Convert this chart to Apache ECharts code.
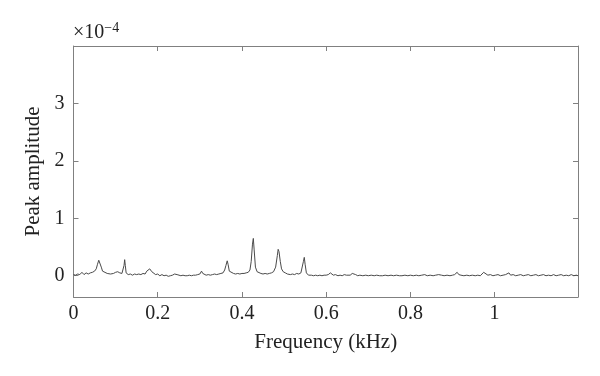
<!DOCTYPE html>
<html>
<head>
<meta charset="utf-8">
<script src="https://cdn.jsdelivr.net/npm/echarts@6/dist/echarts.min.js"></script>
<style>
  html, body { margin: 0; padding: 0; background: #fff; }
  #spectrum { width: 600px; height: 376px; }
</style>
</head>
<body>
<div id="spectrum"></div>
<script>
// frequency (kHz) and peak amplitude (x 1e-4)
const freqKHz = [
  0.000, 0.005, 0.010, 0.015, 0.020, 0.025, 0.030, 0.035, 0.040, 0.045,
  0.050, 0.054, 0.057, 0.060, 0.062, 0.064, 0.066, 0.069, 0.073, 0.080,
  0.088, 0.095, 0.100, 0.105, 0.110, 0.115, 0.118, 0.120, 0.1215, 0.123,
  0.125, 0.130, 0.135, 0.140, 0.145, 0.150, 0.155, 0.160, 0.165, 0.170,
  0.174, 0.177, 0.181, 0.183, 0.186, 0.190, 0.195, 0.200, 0.205, 0.210,
  0.215, 0.220, 0.225, 0.230, 0.235, 0.240, 0.243, 0.246, 0.250, 0.255,
  0.260, 0.265, 0.270, 0.275, 0.280, 0.285, 0.290, 0.295, 0.300, 0.304,
  0.307, 0.310, 0.315, 0.320, 0.325, 0.330, 0.335, 0.340, 0.345, 0.350,
  0.355, 0.359, 0.362, 0.365, 0.367, 0.370, 0.374, 0.380, 0.385, 0.390,
  0.395, 0.400, 0.405, 0.410, 0.415, 0.419, 0.422, 0.425, 0.427, 0.429,
  0.432, 0.436, 0.440, 0.445, 0.450, 0.455, 0.460, 0.465, 0.470, 0.475,
  0.480, 0.484, 0.486, 0.488, 0.491, 0.494, 0.498, 0.503, 0.508, 0.515,
  0.520, 0.525, 0.530, 0.535, 0.540, 0.543, 0.546, 0.548, 0.550, 0.553,
  0.558, 0.565, 0.570, 0.575, 0.580, 0.585, 0.590, 0.595, 0.600, 0.605,
  0.610, 0.613, 0.617, 0.622, 0.628, 0.633, 0.638, 0.643, 0.648, 0.652,
  0.657, 0.662, 0.666, 0.670, 0.675, 0.680, 0.687, 0.694, 0.700, 0.707,
  0.714, 0.720, 0.727, 0.734, 0.740, 0.747, 0.754, 0.760, 0.767, 0.774,
  0.780, 0.787, 0.794, 0.800, 0.807, 0.814, 0.820, 0.827, 0.834, 0.840,
  0.847, 0.854, 0.860, 0.867, 0.874, 0.880, 0.887, 0.894, 0.900, 0.905,
  0.911, 0.915, 0.920, 0.927, 0.934, 0.940, 0.947, 0.954, 0.960, 0.966,
  0.970, 0.974, 0.978, 0.984, 0.990, 0.996, 1.002, 1.008, 1.014, 1.020,
  1.026, 1.030, 1.034, 1.038, 1.044, 1.050, 1.056, 1.062, 1.068, 1.074,
  1.080, 1.086, 1.092, 1.098, 1.104, 1.110, 1.116, 1.122, 1.128, 1.134,
  1.140, 1.146, 1.152, 1.158, 1.164, 1.170, 1.176, 1.182, 1.188, 1.194,
  1.198
];
const amplitude = [
  0.02, 0.01, 0.03, 0.02, 0.06, 0.02, 0.05, 0.03, 0.05, 0.06,
  0.08, 0.12, 0.20, 0.27, 0.30, 0.25, 0.15, 0.08, 0.05, 0.04,
  0.03, 0.04, 0.06, 0.07, 0.05, 0.04, 0.06, 0.18, 0.28, 0.18,
  0.05, 0.02, 0.03, 0.01, 0.03, 0.02, 0.03, 0.02, 0.04, 0.03,
  0.08, 0.07, 0.12, 0.14, 0.07, 0.04, 0.02, 0.03, 0.00, 0.02,
  0.00, 0.01, -0.01, 0.00, 0.01, 0.03, 0.06, 0.02, 0.01, 0.00,
  0.01, 0.00, 0.00, 0.01, 0.00, 0.01, 0.01, 0.02, 0.03, 0.08,
  0.04, 0.02, 0.01, 0.02, 0.01, 0.02, 0.03, 0.02, 0.03, 0.04,
  0.05, 0.10, 0.18, 0.26, 0.20, 0.08, 0.05, 0.04, 0.03, 0.04,
  0.03, 0.04, 0.04, 0.05, 0.06, 0.10, 0.25, 0.55, 0.65, 0.45,
  0.15, 0.07, 0.05, 0.04, 0.03, 0.04, 0.03, 0.04, 0.05, 0.07,
  0.15, 0.35, 0.46, 0.42, 0.25, 0.12, 0.07, 0.05, 0.03, 0.02,
  0.03, 0.02, 0.04, 0.03, 0.05, 0.08, 0.25, 0.32, 0.20, 0.05,
  0.01, 0.01, 0.00, 0.01, 0.00, 0.01, 0.00, 0.01, 0.01, 0.02,
  0.05, 0.04, 0.01, 0.02, 0.00, 0.01, 0.00, 0.02, 0.01, 0.03,
  0.01, 0.04, 0.01, 0.02, 0.00, 0.01, 0.00, 0.01, 0.00, 0.01,
  0.00, 0.01, 0.00, 0.00, 0.01, 0.00, 0.01, 0.00, 0.01, 0.00,
  0.00, 0.01, 0.00, 0.01, 0.00, 0.01, 0.00, 0.01, 0.02, 0.00,
  0.01, 0.00, 0.01, 0.02, 0.01, 0.00, 0.01, 0.00, 0.01, 0.02,
  0.06, 0.02, 0.01, 0.00, 0.01, 0.00, 0.01, 0.00, 0.01, 0.00,
  0.02, 0.06, 0.03, 0.01, 0.02, 0.00, 0.01, 0.02, 0.00, 0.01,
  0.02, 0.02, 0.05, 0.01, 0.02, 0.00, 0.01, 0.02, 0.00, 0.01,
  0.02, 0.00, 0.01, 0.02, 0.00, 0.01, 0.02, 0.00, 0.01, 0.00,
  0.02, 0.00, 0.01, 0.02, 0.00, 0.01, 0.00, 0.02, 0.00, 0.01,
  0.00
];
const yTickValues = [0, 1, 2, 3];
const xTickStep = 0.2;

const axisColor = '#808080';
const fontFamily = '"Liberation Serif", "DejaVu Serif", serif';

const myChart = echarts.init(document.getElementById('spectrum'));
myChart.setOption({
  animation: false,
  backgroundColor: '#fff',
  textStyle: { fontFamily: fontFamily },
  title: {
    left: 73,
    top: 21,
    padding: 0,
    text: '×10{sup|−4}',
    textStyle: {
      fontFamily: fontFamily,
      fontSize: 20,
      fontWeight: 'normal',
      color: '#222',
      rich: {
        sup: { fontFamily: fontFamily, fontSize: 14, color: '#222', verticalAlign: 'top', padding: [0, 0, 9, 0] }
      }
    }
  },
  grid: { left: 73.5, right: 22, top: 46, bottom: 79 },
  xAxis: [
    {
      type: 'value',
      min: 0,
      max: 1.198,
      interval: xTickStep,
      name: 'Frequency (kHz)',
      nameLocation: 'middle',
      nameGap: 35,
      nameTextStyle: { fontFamily: fontFamily, fontSize: 21, color: '#222' },
      axisLine: { onZero: false, lineStyle: { color: axisColor, width: 1 } },
      axisTick: { inside: true, length: 5, lineStyle: { color: axisColor } },
      axisLabel: { showMaxLabel: false, margin: 7, fontFamily: fontFamily, fontSize: 20, color: '#222' },
      splitLine: { show: false }
    },
    {
      type: 'value',
      position: 'top',
      min: 0,
      max: 1.198,
      interval: xTickStep,
      axisLine: { onZero: false, lineStyle: { color: axisColor, width: 1 } },
      axisTick: { inside: true, length: 5, lineStyle: { color: axisColor } },
      axisLabel: { show: false },
      splitLine: { show: false }
    }
  ],
  yAxis: [
    {
      type: 'value',
      min: -0.37,
      max: 4,
      name: 'Peak amplitude',
      nameLocation: 'middle',
      nameRotate: 90,
      nameGap: 27,
      nameTextStyle: { fontFamily: fontFamily, fontSize: 21, color: '#222' },
      axisLine: { show: true, onZero: false, lineStyle: { color: axisColor, width: 1 } },
      axisTick: { show: true, inside: true, length: 5, customValues: yTickValues, lineStyle: { color: axisColor } },
      axisLabel: { margin: 9, customValues: yTickValues, fontFamily: fontFamily, fontSize: 20, color: '#222' },
      splitLine: { show: false }
    },
    {
      type: 'value',
      position: 'right',
      min: -0.37,
      max: 4,
      axisLine: { show: true, onZero: false, lineStyle: { color: axisColor, width: 1 } },
      axisTick: { show: true, inside: true, length: 5, customValues: yTickValues, lineStyle: { color: axisColor } },
      axisLabel: { show: false },
      splitLine: { show: false }
    }
  ],
  series: [
    {
      type: 'line',
      xAxisIndex: 0,
      yAxisIndex: 0,
      data: freqKHz.map((f, i) => [f, amplitude[i]]),
      showSymbol: false,
      lineStyle: { color: '#4a4a4a', width: 1 }
    }
  ]
});
</script>
</body>
</html>
